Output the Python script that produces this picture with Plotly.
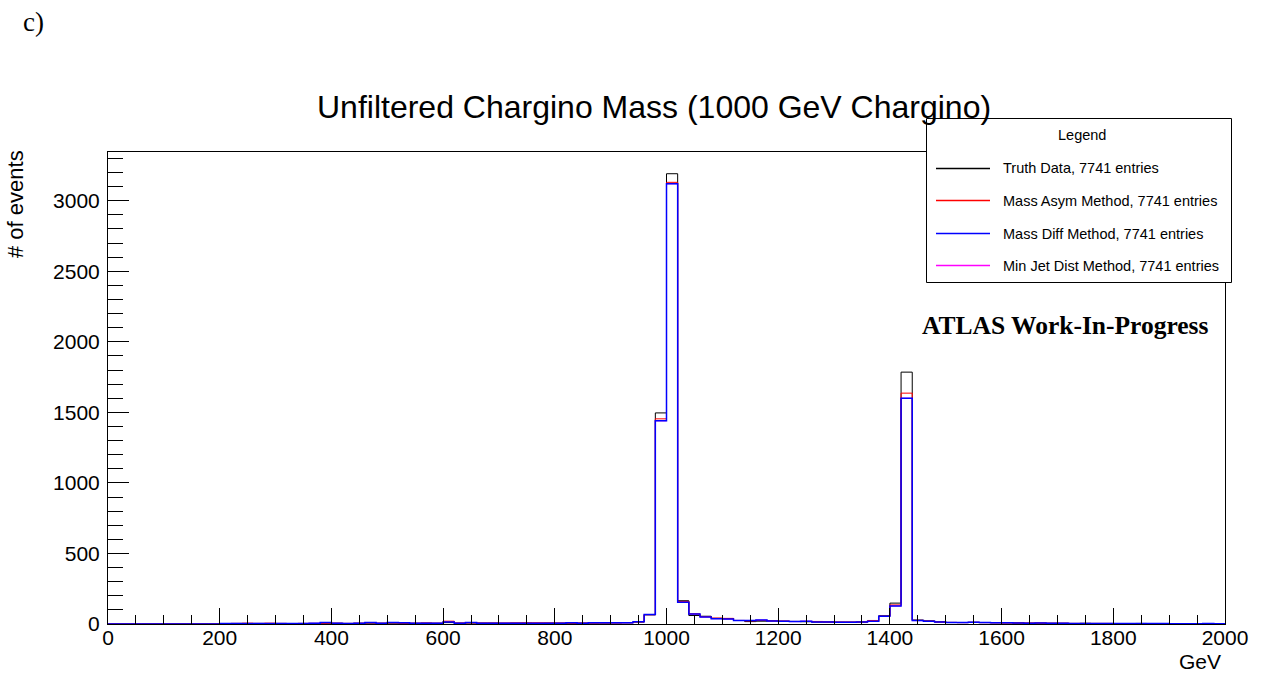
import numpy as np
import plotly.graph_objects as go

# ---------------- data ----------------
bin_width = 20
x_min, x_max = 0, 2000
bin_edges = list(np.arange(x_min, x_max + bin_width, bin_width))

series_names = [
    "Truth Data, 7741 entries",
    "Mass Asym Method, 7741 entries",
    "Mass Diff Method, 7741 entries",
    "Min Jet Dist Method, 7741 entries",
]

truth_counts = [
    0, 0, 0, 0, 0, 0, 0, 0, 0, 0,
    3, 4, 3, 4, 3, 4, 3, 4, 4, 5,
    5, 4, 5, 6, 5, 6, 5, 5, 6, 5,
    10, 6, 7, 6, 6, 5, 6, 6, 5, 6,
    6, 5, 6, 7, 7, 8, 9, 14, 65, 1496,
    3191, 165, 60, 55, 40, 38, 25, 17, 20, 22,
    20, 18, 16, 14, 14, 13, 13, 14, 18, 58,
    148, 1785, 28, 22, 15, 11, 10, 12, 10, 9,
    8, 7, 6, 6, 5, 5, 4, 5, 4, 4,
    3, 3, 4, 3, 3, 2, 3, 2, 3, 2,
]
asym_counts = [
    0, 0, 0, 0, 0, 0, 0, 0, 0, 0,
    3, 4, 6, 4, 6, 4, 3, 4, 4, 5,
    5, 4, 5, 8, 5, 8, 6, 5, 6, 5,
    20, 6, 8, 6, 6, 6, 7, 8, 8, 7,
    6, 6, 6, 7, 8, 8, 9, 15, 66, 1454,
    3130, 160, 72, 52, 42, 40, 25, 22, 25, 22,
    20, 18, 18, 18, 14, 13, 13, 14, 25, 55,
    135, 1636, 26, 20, 14, 11, 10, 11, 10, 9,
    8, 7, 6, 6, 5, 5, 4, 4, 4, 4,
    3, 3, 3, 3, 3, 2, 2, 2, 3, 2,
]
diff_counts = [
    0, 0, 0, 0, 0, 0, 0, 0, 0, 0,
    3, 4, 3, 4, 3, 4, 3, 4, 5, 10,
    5, 4, 5, 10, 5, 10, 9, 5, 6, 5,
    15, 6, 10, 6, 6, 6, 6, 6, 6, 6,
    6, 9, 6, 8, 8, 8, 9, 16, 67, 1440,
    3120, 155, 70, 50, 38, 35, 25, 25, 28, 22,
    20, 17, 20, 15, 14, 13, 13, 14, 20, 55,
    128, 1600, 24, 20, 14, 11, 10, 12, 10, 9,
    8, 7, 6, 7, 5, 5, 4, 4, 4, 4,
    3, 3, 3, 3, 3, 2, 2, 2, 3, 2,
]
minjet_counts = list(diff_counts)

series_colors = ["#000000", "#ff0000", "#0000ff", "#ff00ff"]
series_widths = [1, 1, 1.5, 1]

# ---------------- geometry helpers ----------------
OFF = 0  # page body margin (set to 0 via post_script)
W, H = 1263, 673
ML, MR, MT, MB = 108, 38, 152, 49
PW, PH = W - ML - MR, H - MT - MB


def px(xa):
    return (xa - OFF - ML) / PW


def py(ya):
    return (H - MB - (ya - OFF)) / PH


fig = go.Figure()

all_counts = [truth_counts, asym_counts, diff_counts, minjet_counts]
draw_order = [3, 0, 1, 2]
for i in draw_order:
    c = all_counts[i]
    fig.add_trace(go.Scatter(
        x=bin_edges,
        y=c + [c[-1]],
        mode="lines",
        line=dict(shape="hv", color=series_colors[i], width=series_widths[i]),
        name=series_names[i],
        showlegend=False,
        hoverinfo="skip",
    ))

font_sans = "Liberation Sans, Arial, Helvetica, sans-serif"
font_serif = "Liberation Serif, Times New Roman, serif"

fig.update_layout(
    width=W, height=H,
    margin=dict(l=ML, r=MR, t=MT, b=MB, autoexpand=False),
    paper_bgcolor="white", plot_bgcolor="white",
    showlegend=False,
    font=dict(family=font_sans, color="black"),
)

fig.update_xaxes(
    range=[x_min, x_max], dtick=200, tick0=0,
    ticks="inside", ticklen=16, tickwidth=1, tickcolor="black",
    minor=dict(dtick=50, ticks="inside", ticklen=9, tickcolor="black", tickwidth=1),
    showline=True, linecolor="black", linewidth=1, mirror=True,
    showgrid=False, zeroline=False,
    tickfont=dict(size=21, family=font_sans),
    ticklabelstandoff=-5,
)
fig.update_yaxes(
    range=[0, 3345], dtick=500, tick0=0,
    ticks="inside", ticklen=21, tickwidth=1, tickcolor="black",
    minor=dict(dtick=100, ticks="inside", ticklen=15, tickcolor="black", tickwidth=1),
    showline=True, linecolor="black", linewidth=1, mirror=True,
    showgrid=False, zeroline=False,
    tickfont=dict(size=21, family=font_sans),
    ticklabelstandoff=3,
)

annotations = []
# Panel label
annotations.append(dict(text="c)", xref="paper", yref="paper", x=px(21), y=py(22),
                        xanchor="left", yanchor="middle", showarrow=False,
                        font=dict(family=font_serif, size=27, color="black")))
# Title
annotations.append(dict(text="Unfiltered Chargino Mass (1000 GeV Chargino)",
                        xref="paper", yref="paper", x=px(653.5), y=py(107),
                        xanchor="center", yanchor="middle", showarrow=False,
                        font=dict(family=font_sans, size=32, color="black")))
# Y title
annotations.append(dict(text="# of events", xref="paper", yref="paper",
                        x=px(16), y=py(149), xanchor="center", yanchor="top",
                        textangle=-90, showarrow=False, borderpad=0,
                        font=dict(family=font_sans, size=22, color="black")))
# X title
annotations.append(dict(text="GeV", xref="paper", yref="paper",
                        x=px(1223), y=py(661), xanchor="right", yanchor="middle",
                        showarrow=False,
                        font=dict(family=font_sans, size=21, color="black")))
# ATLAS label
annotations.append(dict(text="<b>ATLAS Work-In-Progress</b>", xref="paper", yref="paper",
                        x=px(920), y=py(325), xanchor="left", yanchor="middle",
                        showarrow=False,
                        font=dict(family=font_serif, size=25.5, color="black")))

shapes = []
# Legend box
shapes.append(dict(type="rect", xref="paper", yref="paper",
                   x0=px(926.5), x1=px(1231.5), y0=py(282.5), y1=py(118.5),
                   line=dict(color="black", width=1), fillcolor="white", layer="above"))
annotations.append(dict(text="Legend", xref="paper", yref="paper",
                        x=px(1082), y=py(135), xanchor="center", yanchor="middle",
                        showarrow=False, font=dict(family=font_sans, size=14.5, color="black")))
row_y = [168.5, 200.5, 233.5, 265.5]
for i in range(4):
    shapes.append(dict(type="line", xref="paper", yref="paper",
                       x0=px(936), x1=px(990), y0=py(row_y[i]), y1=py(row_y[i]),
                       line=dict(color=series_colors[i], width=1.3), layer="above"))
    annotations.append(dict(text=series_names[i], xref="paper", yref="paper",
                            x=px(1001), y=py(row_y[i]), xanchor="left", yanchor="middle",
                            showarrow=False,
                            font=dict(family=font_sans, size=14.5, color="black")))

fig.update_layout(annotations=annotations, shapes=shapes)

fig.write_html("out.html",
               config={"displayModeBar": False, "staticPlot": True},
               post_script="document.body.style.margin='0';document.body.style.overflow='hidden';")
